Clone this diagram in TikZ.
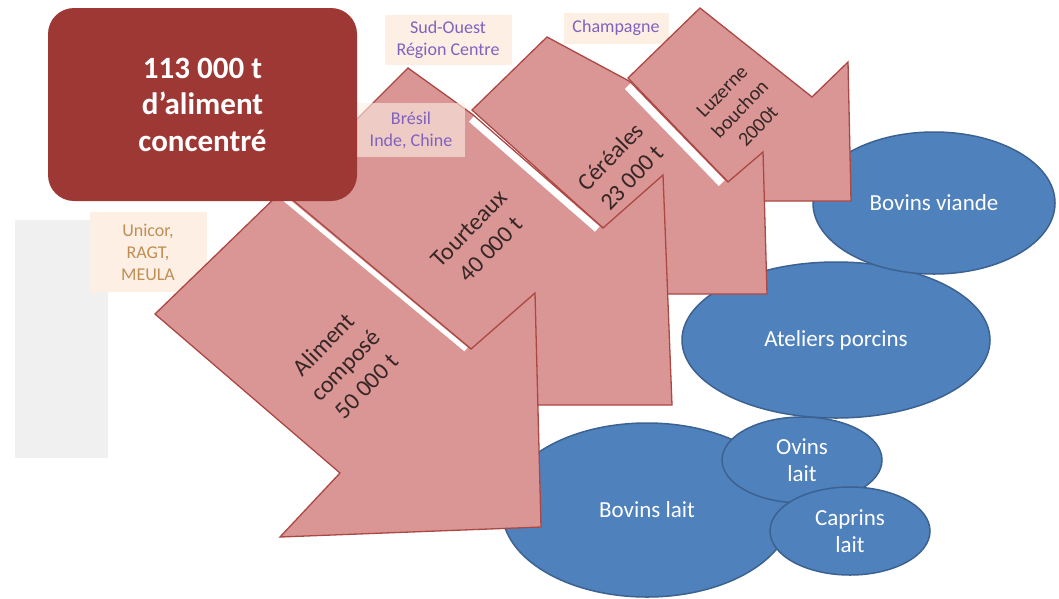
\documentclass[tikz,border=0pt]{standalone}
\usepackage{fontspec}
\setmainfont{Carlito}
\usetikzlibrary{shapes.geometric}
\definecolor{boxred}{RGB}{158,56,52}
\definecolor{arrfill}{RGB}{217,150,148}
\definecolor{arrline}{RGB}{172,72,68}
\definecolor{ellfill}{RGB}{79,129,189}
\definecolor{ellline}{RGB}{60,98,145}
\definecolor{lblfill}{RGB}{253,239,228}
\definecolor{lblpurple}{RGB}{128,98,190}
\definecolor{lblbrown}{RGB}{192,142,84}
\definecolor{greypanel}{RGB}{240,240,240}
\definecolor{arrtextc}{RGB}{55,38,38}
\tikzset{
 arrowpoly/.style={fill=arrfill, draw=arrline, line width=1.3pt, line join=miter},
 gapline/.style={draw=white, line width=#1},
 ell/.style={ellipse, fill=ellfill, draw=ellline, line width=1.5pt, text=white, font=\fontsize{23}{27}\selectfont, align=center, inner sep=0pt},
 lbl/.style={rectangle, fill=lblfill, inner sep=0pt, align=center, font=\fontsize{18}{22}\selectfont},
 arrtext/.style={text=arrtextc, align=center, font=\fontsize{24}{30}\selectfont, inner sep=0pt},
 mainbox/.style={rectangle, rounded corners=26pt, fill=boxred, text=white, align=center, font=\bfseries\fontsize{31}{36.5}\selectfont, minimum width=309pt, minimum height=193pt, inner sep=0pt}
}
\begin{document}
\begin{tikzpicture}[x=1pt,y=-1pt]
\useasboundingbox (0,0) rectangle (1059,598);
\fill[white] (0,0) rectangle (1059,598);
\fill[greypanel] (15,220) rectangle (108,458);
% labels behind arrows
\node[lbl, text=lblbrown, minimum width=117pt, minimum height=80pt] (unicor) at (148,252) {Unicor,\\RAGT,\\MEULA};
\node[lbl, text=lblpurple, minimum width=127pt, minimum height=50pt] (sudouest) at (448,40) {Sud-Ouest\\Région Centre};
\node[lbl, text=lblpurple, minimum width=105pt, minimum height=31pt] (champagne) at (616,28) {Champagne};
% ellipses
\node[ell, minimum width=308pt, minimum height=156pt] (porc) at (836,340) {Ateliers porcins};
\node[ell, minimum width=242pt, minimum height=142pt] (bviande) at (934,203) {Bovins viande};
\node[ell, minimum width=290pt, minimum height=174pt] (blait) at (647,510) {Bovins lait};
\node[ell, minimum width=160pt, minimum height=86pt] (ovins) at (802,460) {Ovins\\lait};
\node[ell, minimum width=160pt, minimum height=88pt] (caprins) at (850,531) {Caprins\\lait};
% arrows, back to front
\draw[arrowpoly] (700,8) -- (628,78) -- (728,182) -- (730,201) -- (851,201) -- (848,62) -- (812,97) -- cycle;
\draw[arrowpoly] (547,37) -- (472,110) -- (603,228) -- (600,294) -- (767,294) -- (763,152) -- (728,182) -- (629,81) -- cycle;
\draw[gapline=8pt, shift={(-3.3,3.2)}] (631,83) -- (725,180);
\draw[arrowpoly] (408,68) -- (283,193) -- (471,349) -- (403,405) -- (672,405) -- (663,175) -- (603,228) -- (472,114) -- cycle;
\draw[gapline=7pt, shift={(-2.7,3.1)}] (474,116) -- (600,226);
\draw[arrowpoly] (155,314) -- (340,473) -- (280,537) -- (541,527) -- (535,293) -- (471,349) -- (282,191) -- cycle;
\draw[gapline=5pt, shift={(-2,2.4)}] (285,195) -- (468,347);
% label over tourteaux
\node[lbl, fill opacity=0.6, text opacity=1, text=lblpurple, minimum width=108pt, minimum height=54pt] (bresil) at (411,130) {Brésil\\Inde, Chine};
% main box
\node[mainbox] (main) at (202.5,104.5) {113 000 t\\d’aliment\\concentré};
% arrow texts
\node[arrtext, rotate=46] (tA) at (345,365) {Aliment\\composé\\50 000 t};
\node[arrtext, rotate=46] (tB) at (480,239) {Tourteaux\\40 000 t};
\node[arrtext, rotate=46] (tC) at (621,167) {Céréales\\23 000 t};
\node[arrtext, rotate=46, font=\fontsize{20}{25}\selectfont] (tD) at (740,109) {Luzerne\\bouchon\\2000t};
\end{tikzpicture}
\end{document}
